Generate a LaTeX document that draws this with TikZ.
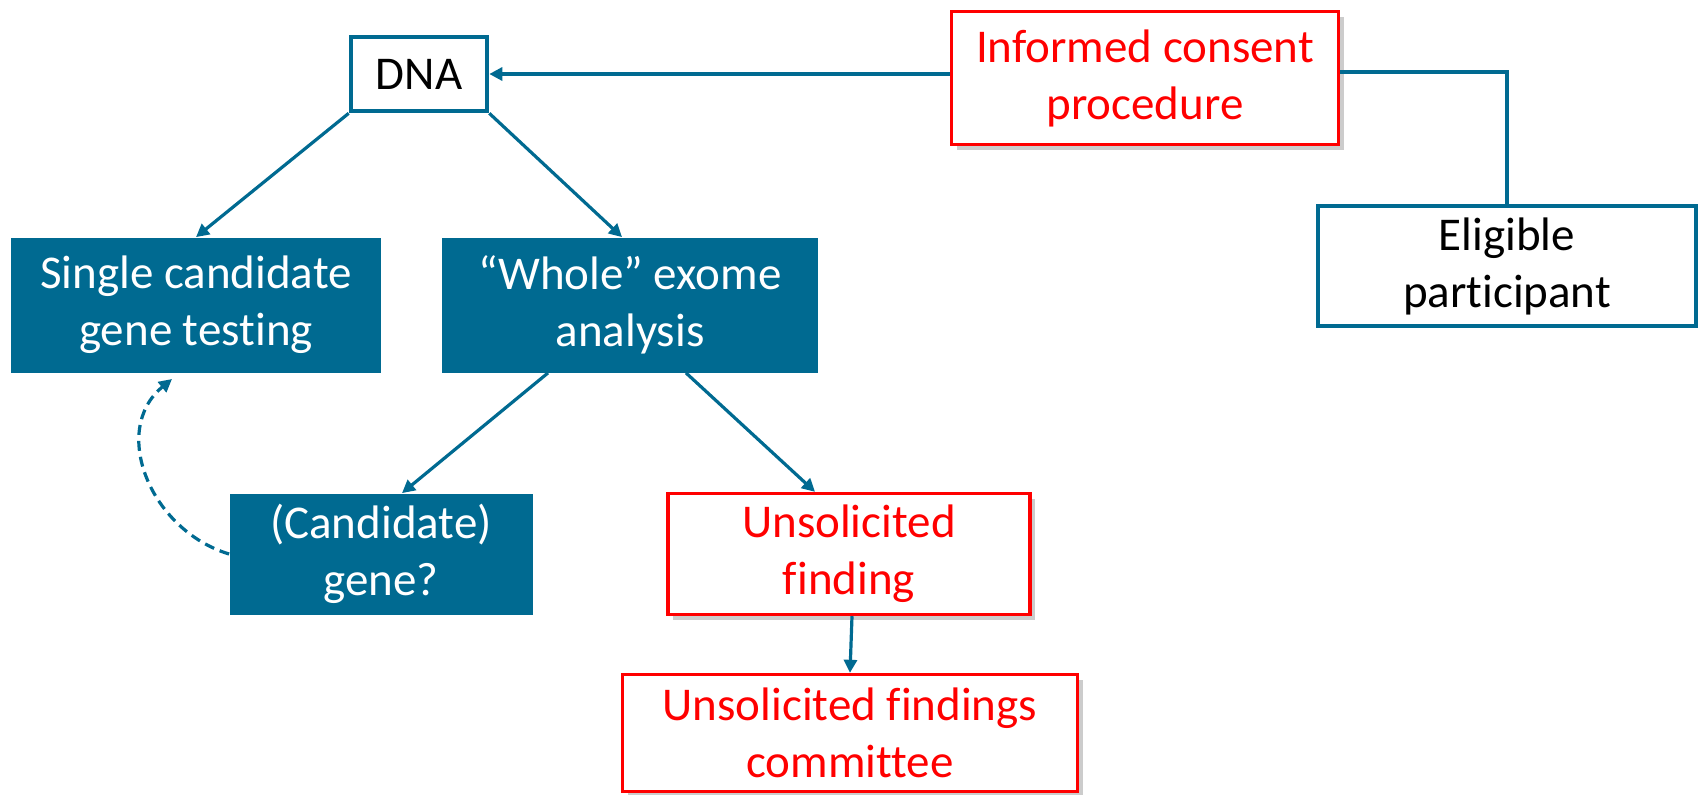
\documentclass[tikz,border=0pt]{standalone}
\usepackage{fontspec}
\setmainfont{Carlito}[Ligatures={TeX,NoCommon}]
\usetikzlibrary{arrows.meta,calc,shadows}
\definecolor{dnablue}{HTML}{006A91}
\definecolor{ufred}{HTML}{FF0000}
\tikzset{
	box/.style={rectangle, align=center, inner sep=2pt, font=\fontsize{23.5}{28.5}\selectfont},
	bluebox/.style={box, fill=dnablue, text=white},
	openbox/.style={box, draw=dnablue, line width=2.3pt, fill=white, text=black},
	redbox/.style={box, draw=ufred, line width=1.7pt, fill=white, text=ufred,
		drop shadow={opacity=0.4, shadow xshift=2.5pt, shadow yshift=-2.5pt}},
	link/.style={color=dnablue, line width=1.6pt, -{Triangle[length=6.5pt, width=6.5pt]}},
}
\begin{document}
	\begin{tikzpicture}[x=0.5pt, y=-0.5pt]
		\useasboundingbox (0,0) rectangle (1703,794);
		
		% nodi
		\node[openbox, minimum width=68pt, minimum height=37pt] (dna) at (419,74) {DNA};
		\node[redbox, minimum width=193.5pt, minimum height=66.5pt] (consent) at (1145,78) {Informed consent\\procedure};
		\node[openbox, minimum width=189pt, minimum height=60pt] (elig) at (1507,266) {Eligible\\participant};
		\node[bluebox, minimum width=185pt, minimum height=67.5pt] (single) at (196,305) {Single candidate\\gene testing};
		\node[bluebox, minimum width=188pt, minimum height=67.5pt] (whole) at (630,305) {“Whole” exome\\analysis};
		\node[bluebox, minimum width=151.5pt, minimum height=60.5pt] (cand) at (381,554) {(Candidate)\\gene?};
		\node[redbox, minimum width=181pt, minimum height=60.5pt] (find) at (849,554) {Unsolicited\\finding};
		\node[redbox, minimum width=227.5pt, minimum height=58.5pt] (comm) at (850,733) {Unsolicited findings\\committee};
		
		% collegamenti
		\draw[link] (consent.west |- dna.east) -- (dna.east);
		\draw[color=dnablue, line width=1.8pt] ($(consent.east)+(0,-6)$) -| (elig.north);
		\draw[link] (dna.south west) -- (single.north);
		\draw[link] (dna.south east) -- ($(whole.north)+(-8,0)$);
		\draw[link] ($(whole.south)+(-82,0)$) -- ($(cand.north)+(21,0)$);
		\draw[link] ($(whole.south)+(56,0)$) -- ($(find.north)+(-34,0)$);
		\draw[link] ($(find.south)+(3,0)$) -- (comm.north);
		
		% ritorno tratteggiato
		\coordinate (singlein) at (172,379);
		\draw[link, dash pattern=on 5pt off 3pt] (cand.west) .. controls (150,530) and (110,430) .. (singlein);
	\end{tikzpicture}
\end{document}
